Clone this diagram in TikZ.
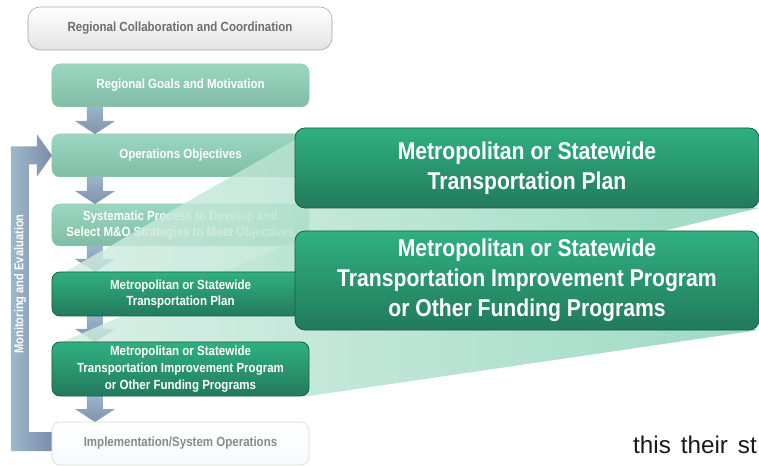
\documentclass[tikz,border=0pt]{standalone}
\usepackage{fontspec}
\setmainfont{Liberation Sans}[FakeStretch=0.87]
\newfontfamily\plainfont{Liberation Sans}
\usetikzlibrary{calc}
\definecolor{lgtop}{HTML}{9BD7C0}
\definecolor{lgbot}{HTML}{80BDA5}
\definecolor{lgborder}{HTML}{8CC8B0}
\definecolor{dgtop}{HTML}{30B081}
\definecolor{dgbot}{HTML}{227A5C}
\definecolor{dgborder}{HTML}{1C5C45}
\definecolor{artop}{HTML}{9AB4C9}
\definecolor{arbot}{HTML}{7F93AE}
\definecolor{lpleft}{HTML}{9DB8CB}
\definecolor{lpright}{HTML}{7E8CAA}
\definecolor{wlight}{HTML}{D2ECE2}
\definecolor{wdark}{HTML}{88D2B7}
\definecolor{graytext}{HTML}{6E6E6E}
\definecolor{impltext}{HTML}{8A8A8A}
\pgfdeclarelayer{bg}
\pgfdeclarelayer{wedgelayer}
\pgfsetlayers{bg,wedgelayer,main}
\newcommand\blockdn[2]{%
  \path[arrowshade] ($(#1.south west)+(35,0)$) -- ($(#1.south west)+(51,0)$)
    -- ($(#2.north west)+(51,-13)$) -- ($(#2.north west)+(63,-13)$)
    -- ($(#2.north west)+(43,0)$) -- ($(#2.north west)+(23,-13)$)
    -- ($(#2.north west)+(35,-13)$) -- cycle;}
\begin{document}
\begin{tikzpicture}[x=1bp,y=-1bp,
  box/.style={rounded corners=8bp, minimum width=257bp, inner sep=0pt, outer sep=0pt,
    align=center, text=white, font=\bfseries\fontsize{13.3}{16.7}\selectfont},
  lightbox/.style={box, top color=lgtop, bottom color=lgbot, draw=lgborder, line width=0.5bp},
  darkbox/.style={box, top color=dgtop, bottom color=dgbot, draw=dgborder, line width=0.8bp},
  bigbox/.style={darkbox, rounded corners=10bp, minimum width=464bp,
    font=\bfseries\fontsize{24.4}{30}\selectfont},
  collabbox/.style={box, rounded corners=12bp, minimum width=304bp, top color=white,
    bottom color=black!11, draw=black!34, line width=0.6bp, text=graytext},
  implbox/.style={box, top color=white, bottom color=green!25!blue!3, draw=green!30!black!18,
    line width=0.6bp, text=impltext},
  arrowshade/.style={top color=artop, bottom color=arbot},
  loopshade/.style={left color=lpleft, right color=lpright},
  wedge/.style={left color=wlight, right color=wdark, fill opacity=0.82},
  looplabel/.style={rotate=90, text=white, font=\bfseries\fontsize{12.8}{15}\selectfont},
  plaintext/.style={inner sep=0pt, font=\plainfont\fontsize{24.3}{29}\selectfont, text=black!90}]
\useasboundingbox (0,0) rectangle (759,466);
% main layer boxes
\node[darkbox, minimum height=44bp] (tp) at (180.5,294) {Metropolitan or Statewide\\Transportation Plan};
\node[darkbox, minimum height=54bp] (tip) at (180.5,369) {Metropolitan or Statewide\\Transportation Improvement Program\\or Other Funding Programs};
\node[implbox, minimum height=43bp] (impl) at (180.5,443.5) {Implementation/System Operations};
\node[bigbox, minimum height=80bp] (big1) at (527,168) {Metropolitan or Statewide\\Transportation Plan};
\node[bigbox, minimum height=99bp] (big2) at (527,280.5) {Metropolitan or Statewide\\Transportation Improvement Program\\or Other Funding Programs};
\node[plaintext, anchor=base west] (note) at (633,453) {this\hspace{10bp}their\hspace{10bp}st};
\begin{pgfonlayer}{bg}
\node[collabbox, minimum height=43bp] (collab) at (180,28.5) {Regional Collaboration and Coordination};
\node[lightbox, minimum height=43bp] (goals) at (180.5,85.5) {Regional Goals and Motivation};
\node[lightbox, minimum height=43bp] (ops) at (180.5,155.5) {Operations Objectives};
\node[lightbox, minimum height=42bp] (sys) at (180.5,225) {Systematic Process to Develop and\\Select M\&O Strategies to Meet Objectives};
\blockdn{goals}{ops}
\blockdn{ops}{sys}
\blockdn{sys}{tp}
\blockdn{tp}{tip}
\blockdn{tip}{impl}
\path[loopshade] ($(impl.west)+(0,-11.5)$) -- ($(impl.west)+(-23,-11.5)$)
  -- ($(ops.west)+(-23,9)$) -- ($(ops.west)+(-15,9)$) -- ($(ops.west)+(-15,21)$)
  -- (ops.west) -- ($(ops.west)+(-15,-21)$) -- ($(ops.west)+(-15,-9)$)
  -- ($(ops.west)+(-41,-9)$) -- ($(impl.west)+(-41,7.5)$) -- ($(impl.west)+(0,7.5)$) -- cycle;
\node[looplabel] (monlabel) at (20,284) {Monitoring and Evaluation};
\end{pgfonlayer}
\begin{pgfonlayer}{wedgelayer}
\path[wedge] ($(tp.north west)+(13,0)$) -- ($(big1.north west)+(0,12)$) -- (big1.south east) -- (tp.south east) -- cycle;
\path[wedge] ($(tip.north west)+(10,0)$) -- ($(big2.north west)+(0,10)$) -- (big2.south east) -- (tip.south east) -- cycle;
\end{pgfonlayer}
\end{tikzpicture}
\end{document}
